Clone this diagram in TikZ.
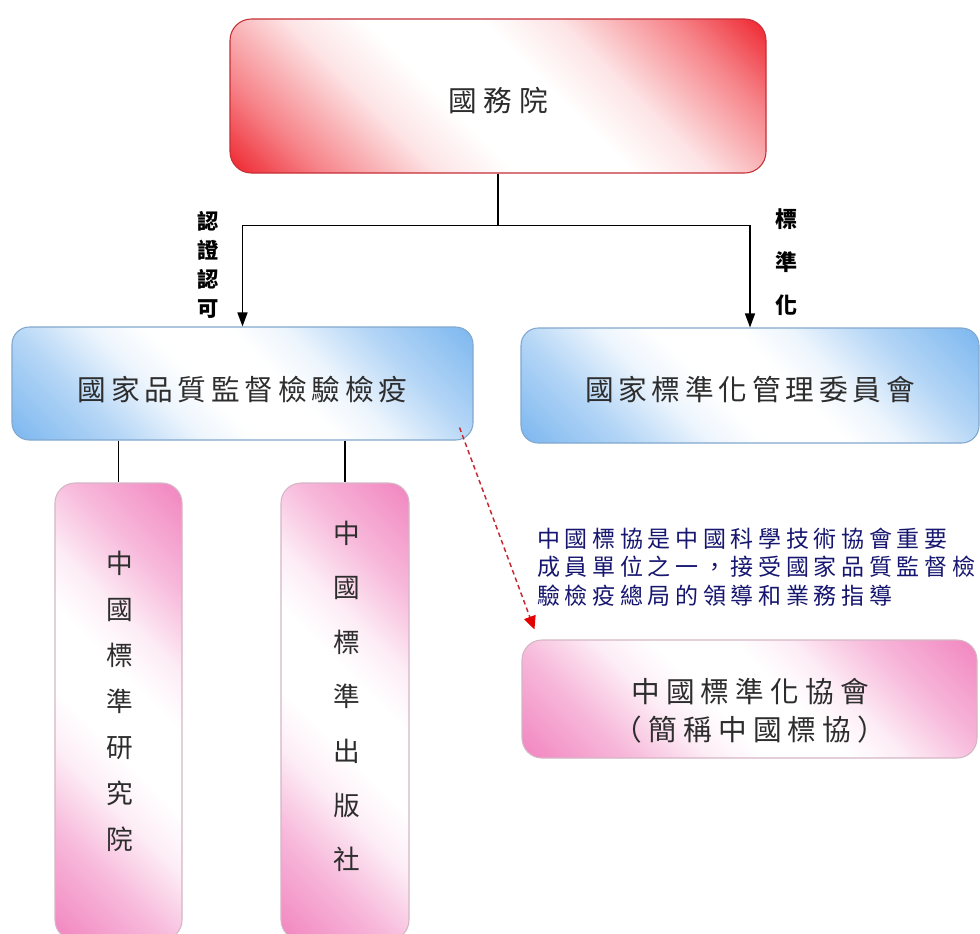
\documentclass[tikz,border=0pt]{standalone}
\usepackage{fontspec}
\newfontfamily\cjk{Noto Sans CJK TC}
\usetikzlibrary{arrows.meta}
\definecolor{redc}{RGB}{238,30,40}
\definecolor{bluec}{RGB}{130,186,240}
\definecolor{pinkc}{RGB}{242,138,194}
\definecolor{navyc}{RGB}{22,22,112}
\definecolor{dashred}{RGB}{200,40,50}
\definecolor{txtc}{RGB}{45,45,45}
\pgfdeclareverticalshading{redsh}{100bp}{color(0bp)=(redc); color(14bp)=(redc); color(24bp)=(redc!55!white); color(36bp)=(redc!12!white); color(44bp)=(white); color(56bp)=(white); color(64bp)=(redc!12!white); color(76bp)=(redc!55!white); color(86bp)=(redc); color(100bp)=(redc)}
\pgfdeclareverticalshading{bluesh}{100bp}{color(0bp)=(bluec); color(16bp)=(bluec); color(28bp)=(bluec!60!white); color(38bp)=(bluec!15!white); color(45bp)=(white); color(55bp)=(white); color(62bp)=(bluec!15!white); color(72bp)=(bluec!60!white); color(84bp)=(bluec); color(100bp)=(bluec)}
\pgfdeclareverticalshading{pinksh}{100bp}{color(0bp)=(pinkc); color(16bp)=(pinkc); color(28bp)=(pinkc!60!white); color(38bp)=(pinkc!15!white); color(45bp)=(white); color(55bp)=(white); color(62bp)=(pinkc!15!white); color(72bp)=(pinkc!60!white); color(84bp)=(pinkc); color(100bp)=(pinkc)}
\makeatletter
\newcommand\spreadchars[2]{\def\spr@f{1}\@tfor\spr@c:=#2\do{\ifx\spr@f\@empty\hspace*{#1}\fi\let\spr@f\@empty\spr@c}}
\makeatother
\tikzset{
  box/.style={inner sep=0pt, line width=0.8pt, shade, shading angle=-45},
  redbox/.style={box, shading=redsh, draw=redc!80!black!90, rounded corners=16pt},
  bluebox/.style={box, shading=bluesh, draw=bluec!70!gray, rounded corners=13pt},
  pinkbox/.style={box, shading=pinksh, draw=pinkc!50!gray!60, rounded corners=15pt},
  boxtext/.style={inner sep=0pt, align=center, text=txtc, font=\cjk\fontsize{21.5}{26}\selectfont},
  vtext/.style={inner sep=0pt, align=center, text=txtc},
  conn/.style={line width=1.1pt, black},
  arr/.style={-{Triangle[width=7.5pt,length=10.5pt]}},
  dashconn/.style={line width=1.1pt, draw=dashred, dash pattern=on 3.5pt off 2.5pt},
  lab/.style={inner sep=0pt, align=center, text=black},
  note/.style={inner sep=0pt, align=left, text=navyc}
}
\begin{document}
\begin{tikzpicture}[x=0.75pt, y=-0.75pt]
\fill[white] (0,0) rectangle (980,933);
\useasboundingbox (0,0) rectangle (980,933);

% boxes
\node[redbox, minimum width=402pt, minimum height=115.5pt] (top) at (498,96) {};
\node[bluebox, minimum width=345.75pt, minimum height=84.75pt] (qual) at (242.5,383.5) {};
\node[bluebox, minimum width=343.5pt, minimum height=86.25pt] (sac) at (750,385.5) {};
\node[pinkbox, minimum width=95.25pt, minimum height=342.75pt] (cnis) at (118.5,711.5) {};
\node[pinkbox, minimum width=96pt, minimum height=342.75pt] (spc) at (345,711.5) {};
\node[pinkbox, minimum width=341.25pt, minimum height=88.5pt] (csa) at (749.5,699) {};

% box texts
\node[boxtext] (toptxt) at (498,101) {\spreadchars{5pt}{國務院}};
\node[boxtext] (qualtxt) at (242.5,390) {\spreadchars{3.6pt}{國家品質監督檢驗檢疫}};
\node[boxtext] (sactxt) at (750,390) {\spreadchars{3.6pt}{國家標準化管理委員會}};
\node[vtext, font=\cjk\fontsize{20}{34.5}\selectfont] (cnistxt) at (120,701.5) {中\\國\\標\\準\\研\\究\\院};
\node[vtext, font=\cjk\fontsize{20}{40.8}\selectfont] (spctxt) at (347,696.5) {中\\國\\標\\準\\出\\版\\社};
\node[boxtext, font=\cjk\fontsize{21.5}{28.5}\selectfont] (csatxt) at (750,711) {\spreadchars{4.6pt}{中國標準化協會}\\\spreadchars{4.6pt}{（簡稱中國標協）}};

% labels
\node[lab, font=\cjk\bfseries\fontsize{16}{21.75}\selectfont] (l1) at (208,265) {認\\證\\認\\可};
\node[lab, font=\cjk\bfseries\fontsize{16.5}{32}\selectfont] (l2) at (786,262) {標\\準\\化};

% note
\node[note, anchor=west, font=\cjk\fontsize{17.25}{21.4}\selectfont] (note) at (537,567) {\spreadchars{3.5pt}{中國標協是中國科學技術協會重要}\\\spreadchars{3.5pt}{成員單位之一，接受國家品質監督檢}\\\spreadchars{3.5pt}{驗檢疫總局的領導和業務指導}};

% connectors
\path (top.south) ++(0,52) coordinate (j);
\draw[conn] (top.south) -- (j);
\draw[conn, arr] (j) -| (qual.north);
\draw[conn, arr] (j) -| (sac.north);
\draw[conn] (qual.south -| cnis.north) -- (cnis.north);
\draw[conn] (qual.south -| spc.north) -- (spc.north);
\draw[dashconn, -{Triangle[width=9pt,length=10pt,fill=red!90!black,color=red!90!black]}] ([shift={(-14,-13)}]qual.south east) -- ([shift={(13,-10)}]csa.north west);
\end{tikzpicture}
\end{document}
